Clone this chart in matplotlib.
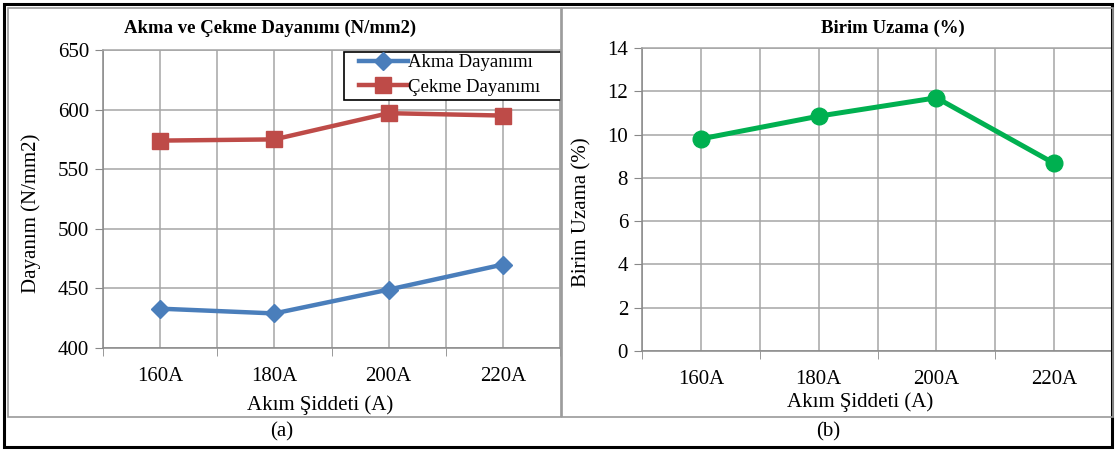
import matplotlib
matplotlib.use("Agg")
import matplotlib.pyplot as plt
from matplotlib.patches import Rectangle

categories = ["160A", "180A", "200A", "220A"]
akma = [433, 429, 449, 470]
cekme = [574, 575, 597, 595]
uzama = [9.8, 10.85, 11.7, 8.67]
left_yticks = [400, 450, 500, 550, 600, 650]
right_yticks = [0, 2, 4, 6, 8, 10, 12, 14]

plt.rcParams['font.family'] = ['Liberation Serif', 'DejaVu Serif']

W, H = 1116, 450
fig = plt.figure(figsize=(W / 100, H / 100), dpi=100)

def fx(px):
    return px / W

def fy(py):
    return 1 - py / H

# frames
fig.patches.append(Rectangle((fx(4), fy(447)), fx(1108), 443 / H, transform=fig.transFigure,
                             fill=False, edgecolor='black', lw=2.2))
fig.patches.append(Rectangle((fx(8), fy(417)), fx(553), 409 / H, transform=fig.transFigure,
                             fill=False, edgecolor='#9a9a9a', lw=1.2))
fig.patches.append(Rectangle((fx(562), fy(417)), fx(551), 409 / H, transform=fig.transFigure,
                             fill=False, edgecolor='#9a9a9a', lw=1.2))

GRID = '#a6a6a6'
AX = '#888888'
FS = 15

def style_axes(ax, yticks):
    x = list(range(len(categories)))
    ax.set_xlim(-0.5, len(categories) - 0.5)
    ax.set_xticks(x)
    ax.set_xticklabels(categories, fontsize=FS)
    ax.set_xticks([i - 0.5 for i in range(len(categories) + 1)], minor=True)
    ax.tick_params(axis='x', which='major', length=0, pad=14)
    ax.tick_params(axis='x', which='minor', length=6, color=AX, direction='out')
    ax.set_yticks(yticks)
    ax.set_ylim(yticks[0], yticks[-1])
    ax.tick_params(axis='y', length=6, color=AX, direction='out', labelsize=FS, pad=4)
    ax.grid(True, which='both', color=GRID, lw=1.1)
    ax.set_axisbelow(True)
    for s in ax.spines.values():
        s.set_color(GRID)
        s.set_linewidth(1.1)
    ax.spines['left'].set_color(AX)
    ax.spines['bottom'].set_color(AX)

def place_labels(ax, xl, yl):
    ax.xaxis.label.set_va('center')
    ax.xaxis.set_label_coords(*xl)
    ax.yaxis.label.set_va('center')
    ax.yaxis.set_label_coords(*yl)

# Left chart
ax1 = fig.add_axes([fx(103), fy(348), fx(457), 298 / H])
style_axes(ax1, left_yticks)
x = list(range(len(categories)))
ax1.plot(x, akma, color='#4a7ebb', lw=3.2, marker='D', ms=9.5, label='Akma Dayanımı')
ax1.plot(x, cekme, color='#be4b48', lw=3.2, marker='s', ms=11, label='Çekme Dayanımı')
ax1.set_ylabel('Dayanım (N/mm2)', fontsize=FS)
ax1.set_xlabel('Akım Şiddeti (A)', fontsize=FS)
place_labels(ax1, ((320 - 103) / 457, (348 - 405) / 298), ((31 - 103) / 457, (348 - 213) / 298))

ax1.add_patch(Rectangle((fx(344), fy(100)), fx(217), 48 / H, transform=fig.transFigure,
                        facecolor='white', edgecolor='black', lw=1.2, zorder=5, clip_on=False))
leg = ax1.legend(loc='upper left', bbox_to_anchor=(fx(359), fy(54)),
                 bbox_transform=fig.transFigure,
                 fontsize=13.5, frameon=False, borderaxespad=0, handlelength=2.6,
                 handletextpad=0.0, borderpad=0.0, labelspacing=0.4)
leg.set_zorder(6)
fig.text(fx(270), fy(28), 'Akma ve Çekme Dayanımı (N/mm2)', ha='center', va='center',
         fontsize=13.5, fontweight='bold')

# Right chart
ax2 = fig.add_axes([fx(642), fy(351), fx(471), 303 / H])
style_axes(ax2, right_yticks)
ax2.plot(x, uzama, color='#00b050', lw=3.6, marker='o', ms=12)
ax2.set_ylabel('Birim Uzama (%)', fontsize=FS)
ax2.set_xlabel('Akım Şiddeti (A)', fontsize=FS)
place_labels(ax2, ((860 - 642) / 471, (351 - 402) / 303), ((582 - 642) / 471, (351 - 212) / 303))
fig.text(fx(893), fy(28), 'Birim Uzama (%)', ha='center', va='center',
         fontsize=13.5, fontweight='bold')

fig.text(fx(282), fy(432), '(a)', ha='center', va='center', fontsize=FS)
fig.text(fx(828), fy(432), '(b)', ha='center', va='center', fontsize=FS)

fig.savefig('out.png', dpi=100)
